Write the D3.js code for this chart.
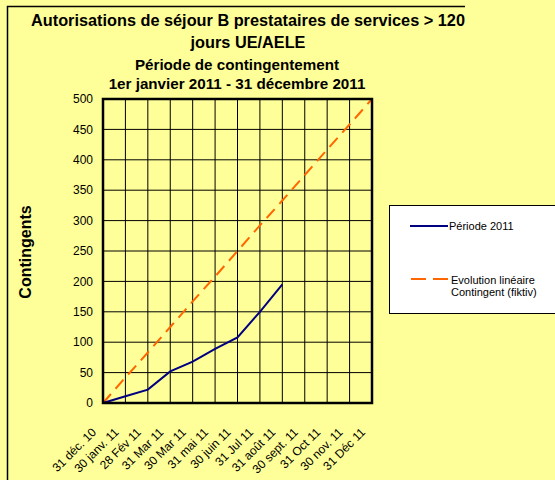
<!DOCTYPE html>
<html>
<head>
<meta charset="utf-8">
<script src="https://cdn.jsdelivr.net/npm/d3@7"></script>
<style>
  body { margin: 0; background: #FFFF99; }
  svg { display: block; font-family: 'Liberation Sans', Arial, sans-serif; }
</style>
</head>
<body>
<svg id="chart" width="555" height="480"></svg>
<script>
const categories = ['31 déc. 10', '30 janv. 11', '28 Fév 11', '31 Mar 11', '30 Mar 11', '31 mai 11',
    '30 juin 11', '31 Jul 11', '31 août 11', '30 sept. 11', '31 Oct 11', '30 nov. 11', '31 Déc 11'];
const periode2011 = [0, 11, 22, 52, 68, 89, 108, 150, 195];
const contingent = [0, 42, 83, 125, 167, 208, 250, 292, 333, 375, 417, 458, 500];
const yTicks = [0, 50, 100, 150, 200, 250, 300, 350, 400, 450, 500];
const titleLines = ['Autorisations de séjour B prestataires de services > 120', 'jours UE/AELE'];
const subtitleLines = ['Période de contingentement', '1er janvier 2011 - 31 décembre 2011'];

const svg = d3.select('#chart');
const plot = { left: 103, right: 372, top: 99, bottom: 403 };

// outer frame (left + top only visible)
svg.append('rect').attr('width', 555).attr('height', 480).attr('fill', '#FFFF99');
svg.append('path').attr('d', 'M7.5,480V6.5H465').attr('fill', 'none').attr('stroke', '#000').attr('stroke-width', 1.5);

const x = d3.scalePoint().domain(categories).range([plot.left, plot.right]);
const y = d3.scaleLinear().domain([0, 500]).range([plot.bottom, plot.top]);

// grid
svg.append('g').selectAll('line').data(categories.slice(1, -1)).enter().append('line')
    .attr('x1', d => x(d)).attr('x2', d => x(d))
    .attr('y1', plot.top).attr('y2', plot.bottom)
    .attr('stroke', '#000').attr('stroke-width', 1);
svg.append('g').selectAll('line').data(yTicks.slice(1, -1)).enter().append('line')
    .attr('x1', plot.left).attr('x2', plot.right)
    .attr('y1', d => y(d)).attr('y2', d => y(d))
    .attr('stroke', '#000').attr('stroke-width', 1);

// y axis labels
svg.append('g').selectAll('text').data(yTicks).enter().append('text')
    .attr('x', 93).attr('y', d => y(d)).attr('dy', '0.35em')
    .attr('text-anchor', 'end').attr('font-size', 12).text(d => d);

// x labels
svg.append('g').selectAll('text').data(categories).enter().append('text')
    .attr('transform', d => `translate(${x(d) - 9}, ${plot.bottom + 27}) rotate(-45)`)
    .attr('text-anchor', 'end').attr('dy', '0.35em')
    .attr('font-size', 12).text(d => d);

// lines
svg.append('path').datum(contingent)
    .attr('fill', 'none').attr('stroke', '#FF6600').attr('stroke-width', 2)
    .attr('stroke-dasharray', '12,7')
    .attr('d', d3.line().x((d, i) => x(categories[i])).y(d => y(d)));
svg.append('path').datum(periode2011)
    .attr('fill', 'none').attr('stroke', '#000080').attr('stroke-width', 2)
    .attr('d', d3.line().x((d, i) => x(categories[i])).y(d => y(d)));

// plot frame
svg.append('rect').attr('x', plot.left).attr('y', plot.top)
    .attr('width', plot.right - plot.left).attr('height', plot.bottom - plot.top)
    .attr('fill', 'none').attr('stroke', '#000').attr('stroke-width', 2.5);

// titles
svg.append('g').selectAll('text').data(titleLines).enter().append('text')
    .attr('x', 248).attr('y', (d, i) => 26 + i * 22)
    .attr('text-anchor', 'middle').attr('font-weight', 'bold').attr('font-size', 16.3).text(d => d);
svg.append('g').selectAll('text').data(subtitleLines).enter().append('text')
    .attr('x', 237).attr('y', (d, i) => 70 + i * 19)
    .attr('text-anchor', 'middle').attr('font-weight', 'bold')
    .attr('font-size', 15.2).text(d => d);

svg.append('text').attr('transform', 'translate(31, 252) rotate(-90)')
    .attr('text-anchor', 'middle').attr('font-weight', 'bold').attr('font-size', 16).text('Contingents');

// legend
const legend = svg.append('g');
legend.append('rect').attr('x', 389.5).attr('y', 205.5).attr('width', 170).attr('height', 108)
    .attr('fill', '#fff').attr('stroke', '#000').attr('stroke-width', 1);
legend.append('line').attr('x1', 410).attr('x2', 448).attr('y1', 226).attr('y2', 226)
    .attr('stroke', '#000080').attr('stroke-width', 2);
legend.append('text').attr('x', 449).attr('y', 226).attr('dy', '0.35em').attr('font-size', 11).text('Période 2011');
legend.append('line').attr('x1', 411).attr('x2', 448).attr('y1', 279).attr('y2', 279)
    .attr('stroke', '#FF6600').attr('stroke-width', 2).attr('stroke-dasharray', '15,7');
legend.append('text').attr('x', 451).attr('y', 280).attr('dy', '0.35em').attr('font-size', 11).text('Evolution linéaire');
legend.append('text').attr('x', 451).attr('y', 292).attr('dy', '0.35em').attr('font-size', 11).text('Contingent (fiktiv)');
</script>
</body>
</html>
